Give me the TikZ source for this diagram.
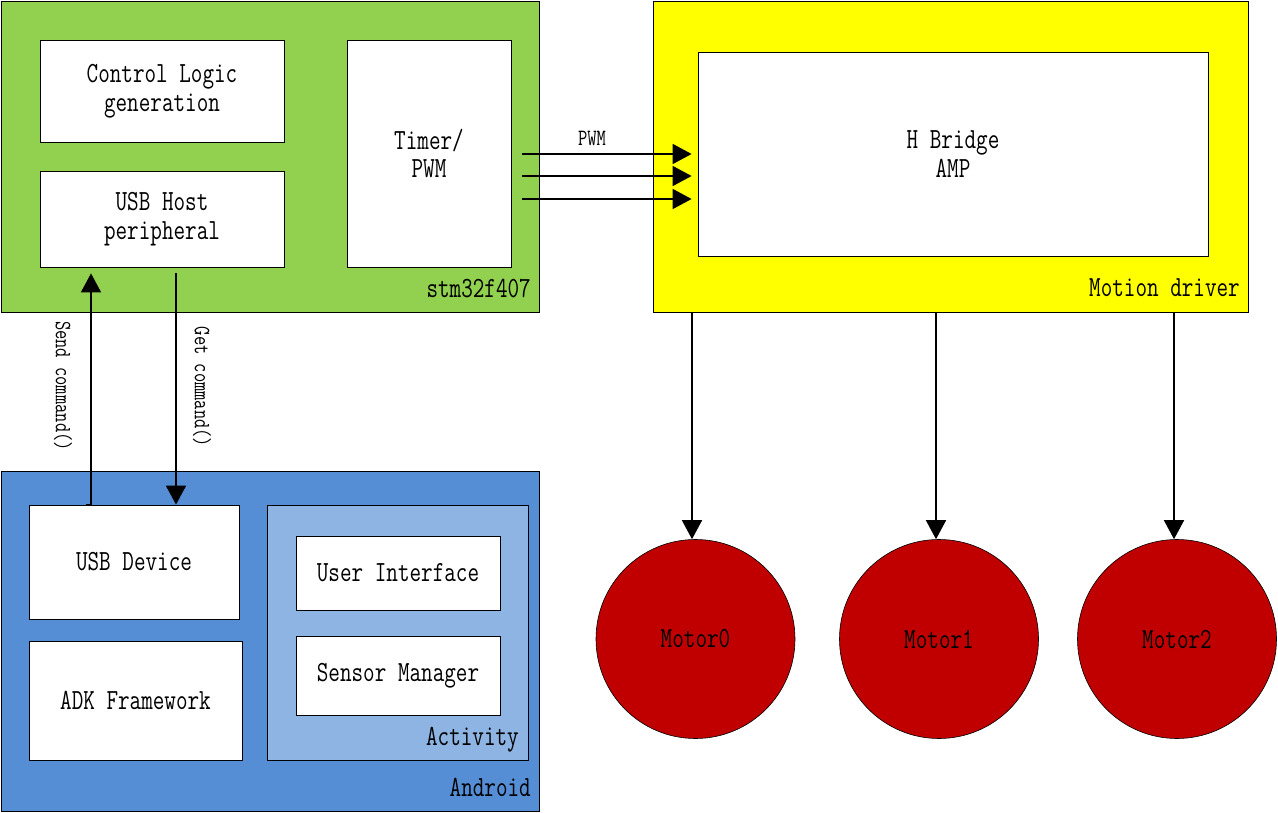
\documentclass[tikz,border=0pt]{standalone}
\usepackage{fontspec}
\usepackage{graphicx}
\usetikzlibrary{arrows.meta,calc}
\definecolor{stmgreen}{HTML}{92D050}
\definecolor{drvyellow}{HTML}{FFFF00}
\definecolor{andblue}{HTML}{558ED5}
\definecolor{actblue}{HTML}{8EB4E3}
\definecolor{motred}{HTML}{C00000}
\newcommand{\st}[1]{\scalebox{1}[1.3]{#1}}
\begin{document}
\begin{tikzpicture}[x=1pt,y=-1pt,
  big/.style={font=\fontsize{22.5}{28.5}\selectfont\ttfamily},
  box/.style={big, draw=black, line width=0.8pt, fill=white, inner sep=0pt, align=center},
  group/.style={draw=black, line width=0.8pt, inner sep=0pt},
  lbl/.style={big, inner sep=0pt, anchor=base east},
  small/.style={font=\fontsize{18}{22}\selectfont\ttfamily, inner sep=0pt},
  motor/.style={big, circle, draw=black, line width=0.6pt, fill=motred, minimum size=199pt, inner sep=0pt},
  arr/.style={-{Triangle[length=19pt,width=20pt]}, line width=1.6pt}]
\useasboundingbox (0,0) rectangle (1278,813);

% groups
\node[group, fill=stmgreen, minimum width=538pt, minimum height=311pt] (stm) at (270,156.5) {};
\node[group, fill=drvyellow, minimum width=595pt, minimum height=311pt] (motion) at (950.5,156.5) {};
\node[group, fill=andblue, minimum width=538pt, minimum height=340pt] (android) at (270,641) {};
\node[group, fill=actblue, minimum width=261pt, minimum height=255pt] (activity) at (397.5,632.5) {};

% group labels
\node[lbl] (stmlbl) at (531,298) {\st{stm32f407}};
\node[lbl] (motionlbl) at (1240,297) {\st{Motion driver}};
\node[lbl] (androidlbl) at (531,796) {\st{Android}};
\node[lbl] (activitylbl) at (519,745) {\st{Activity}};

% inner boxes
\node[box, minimum width=244pt, minimum height=102pt] (ctrl) at (162,91) {\st{Control Logic}\\\st{generation}};
\node[box, minimum width=244pt, minimum height=96pt] (usbhost) at (162,219) {\st{USB Host}\\\st{peripheral}};
\node[box, minimum width=164pt, minimum height=227pt] (timer) at (429,153.5) {\st{Timer/}\\\st{PWM}};
\node[box, minimum width=510pt, minimum height=204pt] (hbridge) at (953,154) {\st{H Bridge}\\\st{AMP}};
\node[box, minimum width=210pt, minimum height=114pt] (usbdev) at (134,562) {\st{USB Device}};
\node[box, minimum width=213pt, minimum height=119pt] (adk) at (135.5,700.5) {\st{ADK Framework}};
\node[box, minimum width=204pt, minimum height=74pt] (ui) at (398,573) {\st{User Interface}};
\node[box, minimum width=204pt, minimum height=79pt] (sensor) at (398,675.5) {\st{Sensor Manager}};

% motors
\node[motor] (m0) at (695.5,639) {\st{Motor0}};
\node[motor] (m1) at (939,639) {\st{Motor1}};
\node[motor] (m2) at (1177,639) {\st{Motor2}};

% helper coordinates
\coordinate (sx0) at (86,0);
\coordinate (sx) at (91,0);
\coordinate (gx) at (176,0);
\coordinate (py1) at (0,154);
\coordinate (py2) at (0,176);
\coordinate (py3) at (0,199);
\coordinate (mx0) at (692,0);
\coordinate (mx1) at (936,0);
\coordinate (mx2) at (1174,0);

% command arrows
\draw[arr, shorten >=6pt] (usbdev.north -| sx0) -- (usbdev.north -| sx) -- (usbhost.south -| sx);
\draw[arr, shorten <=6pt] (usbhost.south -| gx) -- (usbdev.north -| gx);
\node[small, rotate=-90] (sendlbl) at (63,386) {\st{Send command()}};
\node[small, rotate=-90] (getlbl) at (202,387) {\st{Get command()}};

% PWM arrows
\draw[arr, shorten <=11pt, shorten >=6pt] (timer.east |- py1) -- (hbridge.west |- py1);
\draw[arr, shorten <=11pt, shorten >=6pt] (timer.east |- py2) -- (hbridge.west |- py2);
\draw[arr, shorten <=11pt, shorten >=6pt] (timer.east |- py3) -- (hbridge.west |- py3);
\node[small] (pwmlbl) at (592,138) {\st{PWM}};

% motor arrows
\draw[arr] (motion.south -| mx0) -- (m0.north -| mx0);
\draw[arr] (motion.south -| mx1) -- (m1.north -| mx1);
\draw[arr] (motion.south -| mx2) -- (m2.north -| mx2);
\end{tikzpicture}
\end{document}
